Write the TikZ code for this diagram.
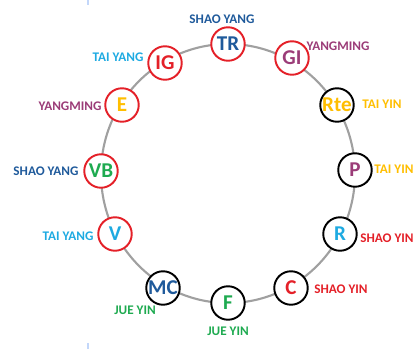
\documentclass[tikz,border=0pt]{standalone}
\usepackage{fontspec}
\setmainfont{Carlito}
\definecolor{meridred}{RGB}{228,32,40}
\definecolor{darkblue}{RGB}{31,90,155}
\definecolor{lightblue}{RGB}{30,170,225}
\definecolor{plum}{RGB}{155,60,120}
\definecolor{gold}{RGB}{255,190,0}
\definecolor{leaf}{RGB}{30,170,80}
\definecolor{ringgray}{RGB}{160,160,160}
\definecolor{markblue}{RGB}{195,215,250}
\begin{document}
\begin{tikzpicture}[x=0.02cm,y=-0.02cm,
  yang/.style={circle,draw=meridred,line width=1.1pt,fill=white,
    minimum size=0.67cm,inner sep=0pt,font=\fontsize{12}{13}\selectfont\bfseries},
  yin/.style={yang,draw=black},
  tag/.style={inner sep=0pt,font=\fontsize{7.5}{8}\selectfont\bfseries}]
  \useasboundingbox (0,0) rectangle (414,349);

  % Coordinates
  \coordinate (ring) at (228,173.5);
  \coordinate (trpos) at (228,44);
  \coordinate (gipos) at (292,58);
  \coordinate (rtepos) at (337,105);
  \coordinate (ppos) at (355,170);
  \coordinate (rpos) at (340,234);
  \coordinate (cpos) at (291,288);
  \coordinate (fpos) at (228,303);
  \coordinate (mcpos) at (163,288);
  \coordinate (vpos) at (115,234);
  \coordinate (vbpos) at (101,171);
  \coordinate (epos) at (122,105);
  \coordinate (igpos) at (165,63);

  % Edge marks
  \fill[markblue] (87,0) rectangle (89,5);
  \fill[markblue] (87,343) rectangle (89,349);

  % Ring
  \draw[ringgray,line width=1.2pt] (ring) ellipse [x radius=127, y radius=129.5];

  % Yang meridians
  \node[yang,text=darkblue] (tr) at (trpos) {TR};
  \node[yang,text=plum] (gi) at (gipos) {GI};
  \node[yang,text=lightblue] (v) at (vpos) {V};
  \node[yang,text=leaf] (vb) at (vbpos) {VB};
  \node[yang,text=gold] (e) at (epos) {E};
  \node[yang,text=meridred] (ig) at (igpos) {IG};

  % Yin meridians
  \node[yin,text=gold] (rte) at (rtepos) {Rte};
  \node[yin,text=plum] (p) at (ppos) {P};
  \node[yin,text=lightblue] (r) at (rpos) {R};
  \node[yin,text=meridred] (c) at (cpos) {C};
  \node[yin,text=leaf] (f) at (fpos) {F};
  \node[yin,text=darkblue] (mc) at (mcpos) {MC};

  % Labels
  \node[tag,text=darkblue] (trtag) at (222,19) {SHAO YANG};
  \node[tag,text=plum] (gitag) at (338,46) {YANGMING};
  \node[tag,text=gold] (rtetag) at (382,104) {TAI YIN};
  \node[tag,text=gold] (ptag) at (394,169) {TAI YIN};
  \node[tag,text=meridred] (rtag) at (387,238) {SHAO YIN};
  \node[tag,text=meridred] (ctag) at (341,289) {SHAO YIN};
  \node[tag,text=leaf] (ftag) at (228,331) {JUE YIN};
  \node[tag,text=leaf] (mctag) at (135,310) {JUE YIN};
  \node[tag,text=lightblue] (vtag) at (68,236) {TAI YANG};
  \node[tag,text=darkblue] (vbtag) at (46,171) {SHAO YANG};
  \node[tag,text=plum] (etag) at (70,106) {YANGMING};
  \node[tag,text=lightblue] (igtag) at (118,57) {TAI YANG};
\end{tikzpicture}
\end{document}
